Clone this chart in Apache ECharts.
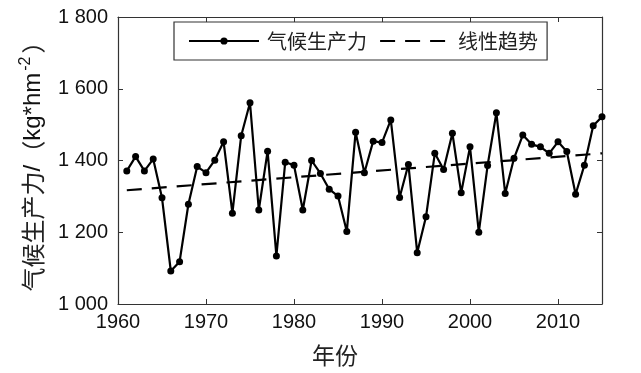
<!DOCTYPE html>
<html>
<head>
<meta charset="utf-8">
<script src="https://cdn.jsdelivr.net/npm/echarts@6/dist/echarts.min.js"></script>
<style>html,body{margin:0;padding:0;background:#fff;}#c{width:641px;height:373px;}</style>
</head>
<body>
<div id="c"></div>
<script>
var years = [1961,1962,1963,1964,1965,1966,1967,1968,1969,1970,1971,1972,1973,1974,1975,1976,1977,1978,1979,1980,1981,1982,1983,1984,1985,1986,1987,1988,1989,1990,1991,1992,1993,1994,1995,1996,1997,1998,1999,2000,2001,2002,2003,2004,2005,2006,2007,2008,2009,2010,2011,2012,2013,2014,2015];
var productivity = [1371,1411,1371,1404,1296,1092,1118,1278,1383,1366,1401,1452,1253,1469,1561,1262,1426,1134,1395,1387,1262,1400,1364,1320,1301,1202,1479,1366,1454,1450,1513,1297,1389,1143,1243,1420,1375,1476,1310,1438,1200,1386,1533,1308,1406,1471,1445,1438,1420,1452,1425,1306,1387,1497,1522];
var trendYears = [1961, 2015];
var trendValues = [1317, 1420];
var xTicks = {min: 1960, max: 2015, interval: 10};
var yTicks = {min: 1000, max: 1800, interval: 200};
var seriesNames = ['气候生产力', '线性趋势'];

var mainData = years.map(function (y, i) { return [y, productivity[i]]; });
var trendData = trendYears.map(function (y, i) { return [y, trendValues[i]]; });

var frame = '#333';
var chart = echarts.init(document.getElementById('c'), null, {renderer: 'canvas'});
function sp(v) { return String(v).replace(/\B(?=(\d{3})+(?!\d))/g, ' '); }
var latin = 'Liberation Sans, Arial, sans-serif';
var cjk = 'Noto Sans CJK SC, sans-serif';
var clear = 'rgba(0,0,0,0)';

chart.setOption({
  animation: false,
  backgroundColor: '#fff',
  grid: {left: 118, right: 39, top: 17, bottom: 69, containLabel: false},
  legend: {
    left: 174, top: 22,
    orient: 'horizontal',
    borderColor: '#333', borderWidth: 1.2,
    padding: [9, 9, 9, 14],
    itemWidth: 70, itemHeight: 9, itemGap: 12,
    textStyle: {fontFamily: cjk, fontSize: 20, color: '#222', padding: [0, 0, 0, 3]},
    data: [
      {name: seriesNames[0]},
      {name: seriesNames[1], itemStyle: {color: clear, borderColor: clear, borderWidth: 0},
       lineStyle: {color: '#000', width: 2.2, type: [15, 10]}}
    ]
  },
  xAxis: [{
    type: 'value', min: xTicks.min, max: xTicks.max, interval: xTicks.interval,
    name: '年份', nameLocation: 'middle', nameGap: 40,
    nameTextStyle: {fontFamily: cjk, fontSize: 23, color: '#222', padding: [0, 50, 0, 0]},
    axisLine: {show: true, lineStyle: {color: frame, width: 1.2}},
    axisTick: {show: true, inside: true, length: 5, lineStyle: {color: frame}},
    axisLabel: {fontFamily: latin, fontSize: 20, color: '#111', margin: 8, showMaxLabel: false,
      formatter: function (v) { return String(v); }},
    splitLine: {show: false}
  }, {
    type: 'value', position: 'top', min: xTicks.min, max: xTicks.max, interval: xTicks.interval,
    axisLine: {show: true, lineStyle: {color: frame, width: 1.2}},
    axisTick: {show: true, inside: true, length: 5, lineStyle: {color: frame}},
    axisLabel: {show: false}, splitLine: {show: false}
  }],
  yAxis: [{
    type: 'value', min: yTicks.min, max: yTicks.max, interval: yTicks.interval,
    name: '{t|气候生产力}{u|/}{t|（}{u|kg*hm}{s|-2}{t|）}',
    nameLocation: 'middle', nameGap: 70,
    nameTextStyle: {
      rich: {
        t: {fontFamily: cjk, fontSize: 24, color: '#222', lineHeight: 30},
        u: {fontFamily: latin, fontSize: 24, color: '#111', lineHeight: 30},
        s: {fontFamily: latin, fontSize: 16, color: '#111', verticalAlign: 'top', lineHeight: 30, padding: [0, 3, 0, 2]}
      }
    },
    axisLine: {show: true, lineStyle: {color: frame, width: 1.2}},
    axisTick: {show: true, inside: true, length: 5, lineStyle: {color: frame}},
    axisLabel: {fontFamily: latin, fontSize: 20, color: '#111', margin: 10, formatter: sp},
    splitLine: {show: false}
  }, {
    type: 'value', position: 'right', min: yTicks.min, max: yTicks.max, interval: yTicks.interval,
    axisLine: {show: true, lineStyle: {color: frame, width: 1.2}},
    axisTick: {show: true, inside: true, length: 5, lineStyle: {color: frame}},
    axisLabel: {show: false}, splitLine: {show: false}
  }],
  series: [{
    name: seriesNames[0], type: 'line', data: mainData,
    symbol: 'circle', symbolSize: 7, showSymbol: true,
    lineStyle: {color: '#000', width: 2.2},
    itemStyle: {color: '#000'},
    z: 3
  }, {
    name: seriesNames[1], type: 'line', data: trendData,
    symbol: 'none',
    lineStyle: {color: '#000', width: 2.2, type: [15, 10]},
    itemStyle: {color: '#000'},
    z: 2
  }]
});
</script>
</body>
</html>
